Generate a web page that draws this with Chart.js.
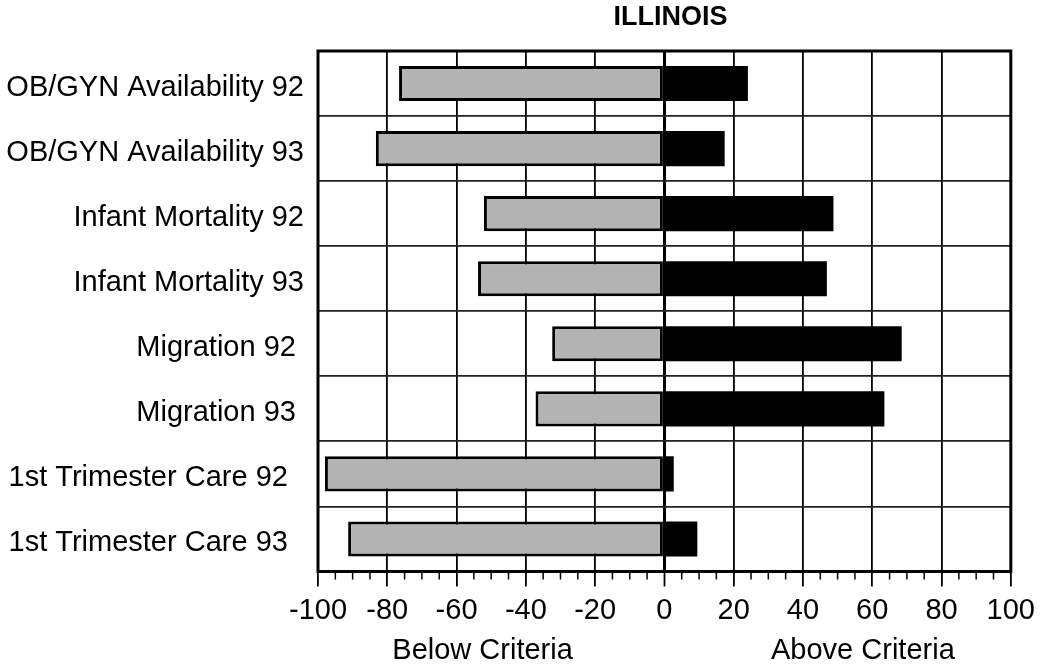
<!DOCTYPE html>
<html>
<head>
<meta charset="utf-8">
<script src="https://cdn.jsdelivr.net/npm/chart.js@4/dist/chart.umd.min.js"></script>
<style>
  html, body { margin: 0; padding: 0; background: #fff; }
  #wrap { width: 1042px; height: 667px; }
</style>
</head>
<body>
<div id="wrap"><canvas id="chart" width="1042" height="667"></canvas></div>
<script>
const categories = [
  "OB/GYN Availability 92",
  "OB/GYN Availability 93",
  "Infant Mortality 92",
  "Infant Mortality 93",
  "Migration 92 ",
  "Migration 93 ",
  "1st Trimester Care 92  ",
  "1st Trimester Care 93  ",
];
const belowCriteria = [-76.6, -83.3, -52.1, -53.8, -32.4, -37.2, -98, -91.3];
const aboveCriteria = [24.1, 17.4, 48.8, 46.9, 68.5, 63.5, 2.7, 9.5];

const title = "ILLINOIS";
const xMin = -100, xMax = 100, xStep = 20, minorStep = 5;
const axisNotes = [
  { text: "Below Criteria", at: -52.5 },
  { text: "Above Criteria", at: 57.3 },
];

const FONT = "'Liberation Sans', Arial, sans-serif";

// frame, title, minor ticks and the two captions under the axis
const extras = {
  id: "extras",
  afterDraw(chart) {
    const { ctx, chartArea: a, scales } = chart;
    const x = scales.x;
    ctx.save();
    ctx.strokeStyle = "#000";
    ctx.lineWidth = 3;
    ctx.strokeRect(a.left, a.top, a.right - a.left, a.bottom - a.top);

    ctx.lineWidth = 1.5;
    for (let v = xMin; v <= xMax; v += minorStep) {
      if (v % xStep === 0) continue;
      const px = x.getPixelForValue(v);
      ctx.beginPath();
      ctx.moveTo(px, a.bottom);
      ctx.lineTo(px, a.bottom + 8);
      ctx.stroke();
    }

    ctx.fillStyle = "#000";
    ctx.textAlign = "center";
    ctx.textBaseline = "middle";
    ctx.font = "bold 27px " + FONT;
    ctx.fillText(title, (a.left + a.right) / 2 + 6, 18);

    ctx.font = "29px " + FONT;
    axisNotes.forEach((n) => {
      ctx.fillText(n.text, x.getPixelForValue(n.at), 651);
    });
    ctx.restore();
  },
};

new Chart(document.getElementById("chart"), {
  type: "bar",
  data: {
    labels: categories,
    datasets: [
      {
        label: "Below",
        data: belowCriteria,
        backgroundColor: "#b3b3b3",
        borderColor: "#000",
        borderWidth: 3,
        borderSkipped: false,
        barPercentage: 0.54,
        categoryPercentage: 1,
      },
      {
        label: "Above",
        data: aboveCriteria,
        backgroundColor: "#000",
        borderWidth: 0,
        barPercentage: 0.54,
        categoryPercentage: 1,
      },
    ],
  },
  options: {
    indexAxis: "y",
    responsive: false,
    animation: false,
    layout: { padding: { top: 51, right: 29, bottom: 0, left: 0 } },
    plugins: {
      legend: { display: false },
      tooltip: { enabled: false },
      title: { display: false },
    },
    scales: {
      x: {
        type: "linear",
        stacked: true,
        min: xMin,
        max: xMax,
        ticks: {
          stepSize: xStep,
          color: "#000",
          font: { family: FONT, size: 29 },
          padding: 7,
          maxRotation: 0,
        },
        grid: {
          color: "#000",
          lineWidth: (c) => (c.tick && c.tick.value === 0 ? 3 : 1.8),
          tickLength: 15,
          tickWidth: 1.8,
          tickColor: "#000",
        },
        border: { display: false },
        afterFit(scale) { scale.height = 95.5; },
      },
      y: {
        type: "category",
        stacked: true,
        offset: true,
        ticks: {
          color: "#000",
          font: { family: FONT, size: 29 },
          padding: 14,
          labelOffset: 4,
        },
        grid: {
          offset: true,
          color: "#222",
          lineWidth: 1.8,
          drawTicks: false,
        },
        border: { display: false },
        afterFit(scale) { scale.width = 318; },
      },
    },
  },
  plugins: [extras],
});
</script>
</body>
</html>
